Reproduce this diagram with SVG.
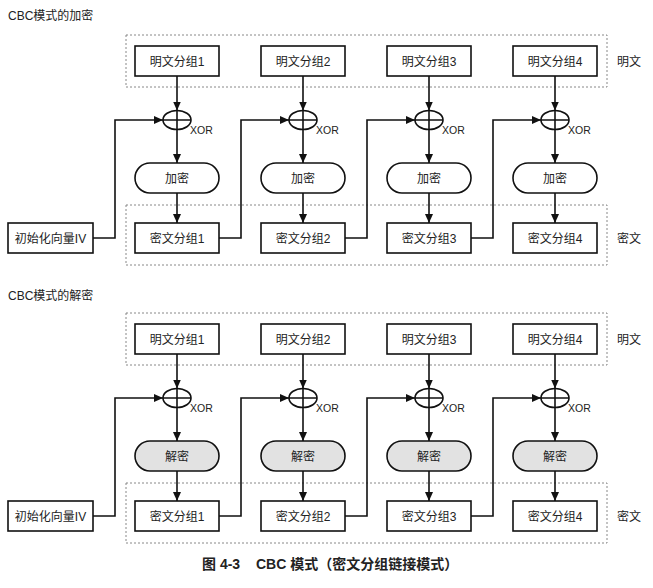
<svg xmlns="http://www.w3.org/2000/svg" width="653" height="588" viewBox="0 0 653 588">
<style>
text{font-family:"Liberation Sans","Noto Sans CJK SC",sans-serif;fill:#222;}
.t{font-size:12px;}
.c{font-size:12px;text-anchor:middle;}
.x{font-size:10.5px;}
.box{fill:#fff;stroke:#111;stroke-width:1.6;}
.pill{fill:#fff;stroke:#111;stroke-width:1.6;}
.pillg{fill:#e2e2e2;stroke:#111;stroke-width:1.6;}
.dash{fill:none;stroke:#888;stroke-width:1;stroke-dasharray:2 2;}
.xor{fill:#fff;stroke:#111;stroke-width:1.6;}
.ln{fill:none;stroke:#111;stroke-width:1.6;}
.ar{fill:none;stroke:#111;stroke-width:1.6;marker-end:url(#ah);}
.cap{font-size:14px;font-weight:bold;}
</style>
<defs>
<marker id="ah" markerUnits="userSpaceOnUse" markerWidth="9" markerHeight="8" refX="9" refY="4" orient="auto">
<path d="M0,0 L9,4 L0,8 z" fill="#111"/>
</marker>
</defs>
<rect width="653" height="588" fill="#fff"/>

<!-- ===== Encryption ===== -->
<text class="t" x="8" y="20">CBC模式的加密</text>
<g id="enc-plain-group">
<rect class="dash" x="126" y="35" width="481" height="52"/>
<text class="t" x="617" y="66">明文</text>
</g>
<g id="enc-cipher-group">
<rect class="dash" x="126" y="205" width="481" height="60"/>
<text class="t" x="617" y="243">密文</text>
</g>

<g id="enc-p1"><rect class="box" x="135" y="46" width="84" height="30"/><text class="c" x="177" y="65.5">明文分组1</text></g>
<g id="enc-p2"><rect class="box" x="261" y="46" width="84" height="30"/><text class="c" x="303" y="65.5">明文分组2</text></g>
<g id="enc-p3"><rect class="box" x="387" y="46" width="84" height="30"/><text class="c" x="429" y="65.5">明文分组3</text></g>
<g id="enc-p4"><rect class="box" x="513" y="46" width="84" height="30"/><text class="c" x="555" y="65.5">明文分组4</text></g>

<g id="enc-x1"><ellipse class="xor" cx="177" cy="120" rx="14" ry="9.5"/><path class="ln" d="M163,120 H191 M177,110.5 V129.5"/><text class="x" x="190" y="134">XOR</text></g>
<g id="enc-x2"><ellipse class="xor" cx="303" cy="120" rx="14" ry="9.5"/><path class="ln" d="M289,120 H317 M303,110.5 V129.5"/><text class="x" x="316" y="134">XOR</text></g>
<g id="enc-x3"><ellipse class="xor" cx="429" cy="120" rx="14" ry="9.5"/><path class="ln" d="M415,120 H443 M429,110.5 V129.5"/><text class="x" x="442" y="134">XOR</text></g>
<g id="enc-x4"><ellipse class="xor" cx="555" cy="120" rx="14" ry="9.5"/><path class="ln" d="M541,120 H569 M555,110.5 V129.5"/><text class="x" x="568" y="134">XOR</text></g>

<g id="enc-e1"><rect class="pill" x="135" y="163" width="84" height="30" rx="15"/><text class="c" x="177" y="182.5">加密</text></g>
<g id="enc-e2"><rect class="pill" x="261" y="163" width="84" height="30" rx="15"/><text class="c" x="303" y="182.5">加密</text></g>
<g id="enc-e3"><rect class="pill" x="387" y="163" width="84" height="30" rx="15"/><text class="c" x="429" y="182.5">加密</text></g>
<g id="enc-e4"><rect class="pill" x="513" y="163" width="84" height="30" rx="15"/><text class="c" x="555" y="182.5">加密</text></g>

<g id="enc-iv"><rect class="box" x="8" y="223" width="85" height="30"/><text class="c" x="50.5" y="242.5">初始化向量IV</text></g>
<g id="enc-c1"><rect class="box" x="135" y="223" width="84" height="30"/><text class="c" x="177" y="242.5">密文分组1</text></g>
<g id="enc-c2"><rect class="box" x="261" y="223" width="84" height="30"/><text class="c" x="303" y="242.5">密文分组2</text></g>
<g id="enc-c3"><rect class="box" x="387" y="223" width="84" height="30"/><text class="c" x="429" y="242.5">密文分组3</text></g>
<g id="enc-c4"><rect class="box" x="513" y="223" width="84" height="30"/><text class="c" x="555" y="242.5">密文分组4</text></g>

<g id="enc-connectors">
<path class="ar" d="M177,76 V110.5"/><path class="ar" d="M303,76 V110.5"/><path class="ar" d="M429,76 V110.5"/><path class="ar" d="M555,76 V110.5"/>
<path class="ar" d="M177,129.5 V163"/><path class="ar" d="M303,129.5 V163"/><path class="ar" d="M429,129.5 V163"/><path class="ar" d="M555,129.5 V163"/>
<path class="ar" d="M177,193 V223"/><path class="ar" d="M303,193 V223"/><path class="ar" d="M429,193 V223"/><path class="ar" d="M555,193 V223"/>
<path class="ar" d="M93,238 H115 V120 H163"/>
<path class="ar" d="M219,238 H241 V120 H289"/>
<path class="ar" d="M345,238 H367 V120 H415"/>
<path class="ar" d="M471,238 H493 V120 H541"/>
</g>

<!-- ===== Decryption ===== -->
<text class="t" x="8" y="300">CBC模式的解密</text>
<g id="dec-plain-group">
<rect class="dash" x="126" y="313" width="481" height="52"/>
<text class="t" x="617" y="344">明文</text>
</g>
<g id="dec-cipher-group">
<rect class="dash" x="126" y="483" width="481" height="60"/>
<text class="t" x="617" y="521">密文</text>
</g>

<g id="dec-p1"><rect class="box" x="135" y="324" width="84" height="30"/><text class="c" x="177" y="343.5">明文分组1</text></g>
<g id="dec-p2"><rect class="box" x="261" y="324" width="84" height="30"/><text class="c" x="303" y="343.5">明文分组2</text></g>
<g id="dec-p3"><rect class="box" x="387" y="324" width="84" height="30"/><text class="c" x="429" y="343.5">明文分组3</text></g>
<g id="dec-p4"><rect class="box" x="513" y="324" width="84" height="30"/><text class="c" x="555" y="343.5">明文分组4</text></g>

<g id="dec-x1"><ellipse class="xor" cx="177" cy="398" rx="14" ry="9.5"/><path class="ln" d="M163,398 H191 M177,388.5 V407.5"/><text class="x" x="190" y="412">XOR</text></g>
<g id="dec-x2"><ellipse class="xor" cx="303" cy="398" rx="14" ry="9.5"/><path class="ln" d="M289,398 H317 M303,388.5 V407.5"/><text class="x" x="316" y="412">XOR</text></g>
<g id="dec-x3"><ellipse class="xor" cx="429" cy="398" rx="14" ry="9.5"/><path class="ln" d="M415,398 H443 M429,388.5 V407.5"/><text class="x" x="442" y="412">XOR</text></g>
<g id="dec-x4"><ellipse class="xor" cx="555" cy="398" rx="14" ry="9.5"/><path class="ln" d="M541,398 H569 M555,388.5 V407.5"/><text class="x" x="568" y="412">XOR</text></g>

<g id="dec-d1"><rect class="pillg" x="135" y="441" width="84" height="30" rx="15"/><text class="c" x="177" y="460.5">解密</text></g>
<g id="dec-d2"><rect class="pillg" x="261" y="441" width="84" height="30" rx="15"/><text class="c" x="303" y="460.5">解密</text></g>
<g id="dec-d3"><rect class="pillg" x="387" y="441" width="84" height="30" rx="15"/><text class="c" x="429" y="460.5">解密</text></g>
<g id="dec-d4"><rect class="pillg" x="513" y="441" width="84" height="30" rx="15"/><text class="c" x="555" y="460.5">解密</text></g>

<g id="dec-iv"><rect class="box" x="8" y="501" width="85" height="30"/><text class="c" x="50.5" y="520.5">初始化向量IV</text></g>
<g id="dec-c1"><rect class="box" x="135" y="501" width="84" height="30"/><text class="c" x="177" y="520.5">密文分组1</text></g>
<g id="dec-c2"><rect class="box" x="261" y="501" width="84" height="30"/><text class="c" x="303" y="520.5">密文分组2</text></g>
<g id="dec-c3"><rect class="box" x="387" y="501" width="84" height="30"/><text class="c" x="429" y="520.5">密文分组3</text></g>
<g id="dec-c4"><rect class="box" x="513" y="501" width="84" height="30"/><text class="c" x="555" y="520.5">密文分组4</text></g>

<g id="dec-connectors">
<path class="ar" d="M177,354 V388.5"/><path class="ar" d="M303,354 V388.5"/><path class="ar" d="M429,354 V388.5"/><path class="ar" d="M555,354 V388.5"/>
<path class="ar" d="M177,407.5 V441"/><path class="ar" d="M303,407.5 V441"/><path class="ar" d="M429,407.5 V441"/><path class="ar" d="M555,407.5 V441"/>
<path class="ar" d="M177,471 V501"/><path class="ar" d="M303,471 V501"/><path class="ar" d="M429,471 V501"/><path class="ar" d="M555,471 V501"/>
<path class="ar" d="M93,516 H115 V398 H163"/>
<path class="ar" d="M219,516 H241 V398 H289"/>
<path class="ar" d="M345,516 H367 V398 H415"/>
<path class="ar" d="M471,516 H493 V398 H541"/>
</g>

<text class="cap" x="202" y="569">图 4-3</text>
<text class="cap" x="256" y="569">CBC 模式（密文分组链接模式）</text>
</svg>
